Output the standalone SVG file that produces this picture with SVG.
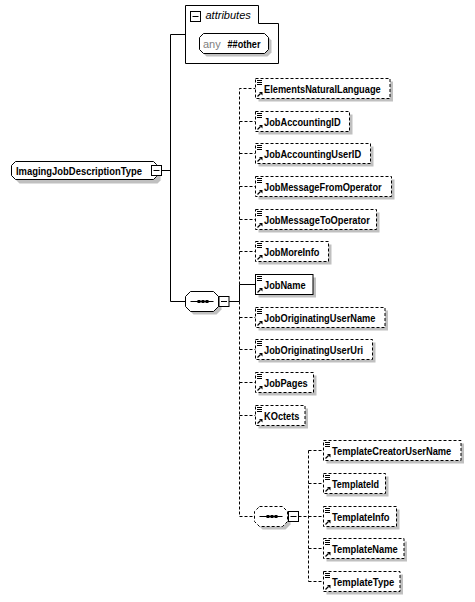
<svg xmlns="http://www.w3.org/2000/svg" width="475" height="602" viewBox="0 0 475 602">
<style>
.bg{fill:#ffffff}
.box{fill:#ffffff;stroke:#000000;stroke-width:1}
.opt{stroke-dasharray:3,2}
.sh{fill:#c0c0c0}
.con{stroke:#000000;stroke-width:1;fill:none}
.dash{stroke-dasharray:3,2}
.lbl{font-family:"Liberation Sans",Arial,sans-serif;font-size:10.5px;font-weight:bold;fill:#000000}
.ital{font-family:"Liberation Sans",Arial,sans-serif;font-size:11px;font-style:italic;fill:#000000}
.any{font-family:"Liberation Sans",Arial,sans-serif;font-size:11px;fill:#808080}
.minus{fill:#ffffff;stroke:#000000;stroke-width:1}
</style>
<defs>
<g id="eicon">
<path d="M1.5,2H6.5M1.5,4H6.5M1.5,6H6.5" stroke="#000000" stroke-width="1" fill="none"/>
<path d="M2,18L5,15" stroke="#000000" stroke-width="1.2" fill="none"/>
<path d="M3.5,13.5H7V17Z" fill="#000000"/>
</g>
<g id="minus">
<rect class="minus" x="0.5" y="0.5" width="10" height="10"/>
<path d="M2.5,5.5H8.5" stroke="#000000" stroke-width="1"/>
</g>
<g id="seqdots">
<path d="M0,0H23" stroke="#000000" stroke-width="1"/>
<rect x="7" y="-1.5" width="3" height="3" fill="#000000"/>
<rect x="11" y="-1.5" width="3" height="3" fill="#000000"/>
<rect x="15" y="-1.5" width="3" height="3" fill="#000000"/>
</g>
</defs>
<rect class="bg" x="0" y="0" width="475" height="602"/>

<g id="connectors">
<path class="con" d="M162,170.5H170.5M170.5,34.5V301.5H185M170.5,34.5H185"/>
<path class="con" d="M229,301.5H239.5V284.5H255.5"/>
<path class="con dash" d="M239.5,284.5V88.5H255.5M239.5,121.5H255.5M239.5,153.5H255.5M239.5,186.5H255.5M239.5,219.5H255.5M239.5,251.5H255.5"/>
<path class="con dash" d="M239.5,301.5V516.5H254M239.5,317.5H255.5M239.5,349.5H255.5M239.5,382.5H255.5M239.5,415.5H255.5"/>
<path class="con dash" d="M298.5,516.5H308.5M308.5,450.5V581.5M308.5,450.5H323.5M308.5,483.5H323.5M308.5,516.5H323.5M308.5,548.5H323.5M308.5,581.5H323.5"/>
</g>

<g id="ImagingJobDescriptionType">
<path class="sh" d="M19.5,165.5H157.5L160.5,168.5V180.5L157.5,183.5H19.5L15.5,179.5V169.5Z"/>
<path class="box" d="M15.5,161.5H153.5L156.5,164.5V176.5L153.5,179.5H15.5L11.5,175.5V165.5Z"/>
<text class="lbl" x="16" y="174.5" textLength="126" lengthAdjust="spacingAndGlyphs">ImagingJobDescriptionType</text>
<use href="#minus" x="151" y="165"/>
</g>

<g id="attributes">
<path class="box" d="M185.5,5.5H258.5V23.5H278.5V63.5H185.5Z"/>
<use href="#minus" x="190" y="11"/>
<text class="ital" x="205.5" y="19">attributes</text>
<g id="any-other">
<path class="sh" d="M206.5,36.5H267.5L271.5,40.5V52.5L267.5,56.5H206.5L202.5,52.5V40.5Z"/>
<path class="box" d="M203.5,33.5H264.5L268.5,37.5V49.5L264.5,53.5H203.5L199.5,49.5V37.5Z"/>
<text class="any" x="203" y="47.5">any</text>
<text class="lbl" x="227.5" y="47.5" textLength="33" lengthAdjust="spacingAndGlyphs">##other</text>
</g>
</g>

<g id="sequence1">
<path class="sh" d="M193.5,294.5H216.5L221.5,299.5V309.5L216.5,314.5H193.5L188.5,309.5V299.5Z"/>
<path class="box" d="M190.5,291.5H213.5L218.5,296.5V306.5L213.5,311.5H190.5L185.5,306.5V296.5Z"/>
<use href="#seqdots" x="190.5" y="301.5"/>
<use href="#minus" x="218.5" y="296"/>
</g>

<g id="sequence2">
<path class="sh" d="M262.5,509.5H285.5L290.5,514.5V524.5L285.5,529.5H262.5L257.5,524.5V514.5Z"/>
<path class="box opt" d="M259.5,506.5H282.5L287.5,511.5V521.5L282.5,526.5H259.5L254.5,521.5V511.5Z"/>
<use href="#seqdots" x="259.5" y="516.5"/>
<use href="#minus" x="288" y="511"/>
</g>

<g id="ElementsNaturalLanguage">
<rect class="sh" x="258.5" y="81.5" width="134.5" height="20"/>
<rect class="box opt" x="255.5" y="78.5" width="134.5" height="20"/>
<use href="#eicon" x="255.5" y="78.5"/>
<text class="lbl" x="264" y="93" textLength="116.7" lengthAdjust="spacingAndGlyphs">ElementsNaturalLanguage</text>
</g>
<g id="JobAccountingID">
<rect class="sh" x="258.5" y="114.5" width="94" height="20"/>
<rect class="box opt" x="255.5" y="111.5" width="94" height="20"/>
<use href="#eicon" x="255.5" y="111.5"/>
<text class="lbl" x="264" y="126" textLength="76.6" lengthAdjust="spacingAndGlyphs">JobAccountingID</text>
</g>
<g id="JobAccountingUserID">
<rect class="sh" x="258.5" y="146.5" width="115" height="20"/>
<rect class="box opt" x="255.5" y="143.5" width="115" height="20"/>
<use href="#eicon" x="255.5" y="143.5"/>
<text class="lbl" x="264" y="158" textLength="97.1" lengthAdjust="spacingAndGlyphs">JobAccountingUserID</text>
</g>
<g id="JobMessageFromOperator">
<rect class="sh" x="258.5" y="179.5" width="136" height="20"/>
<rect class="box opt" x="255.5" y="176.5" width="136" height="20"/>
<use href="#eicon" x="255.5" y="176.5"/>
<text class="lbl" x="264" y="191" textLength="117.7" lengthAdjust="spacingAndGlyphs">JobMessageFromOperator</text>
</g>
<g id="JobMessageToOperator">
<rect class="sh" x="258.5" y="212.5" width="121" height="20"/>
<rect class="box opt" x="255.5" y="209.5" width="121" height="20"/>
<use href="#eicon" x="255.5" y="209.5"/>
<text class="lbl" x="264" y="224" textLength="105.9" lengthAdjust="spacingAndGlyphs">JobMessageToOperator</text>
</g>
<g id="JobMoreInfo">
<rect class="sh" x="258.5" y="244.5" width="73" height="20"/>
<rect class="box opt" x="255.5" y="241.5" width="73" height="20"/>
<use href="#eicon" x="255.5" y="241.5"/>
<text class="lbl" x="264" y="256" textLength="55.5" lengthAdjust="spacingAndGlyphs">JobMoreInfo</text>
</g>
<g id="JobName">
<rect class="sh" x="258.5" y="277.5" width="57.5" height="20"/>
<rect class="box" x="255.5" y="274.5" width="57.5" height="20"/>
<use href="#eicon" x="255.5" y="274.5"/>
<text class="lbl" x="264" y="289" textLength="41.6" lengthAdjust="spacingAndGlyphs">JobName</text>
</g>
<g id="JobOriginatingUserName">
<rect class="sh" x="258.5" y="310.5" width="129.5" height="20"/>
<rect class="box opt" x="255.5" y="307.5" width="129.5" height="20"/>
<use href="#eicon" x="255.5" y="307.5"/>
<text class="lbl" x="264" y="322" textLength="111.5" lengthAdjust="spacingAndGlyphs">JobOriginatingUserName</text>
</g>
<g id="JobOriginatingUserUri">
<rect class="sh" x="258.5" y="342.5" width="117" height="20"/>
<rect class="box opt" x="255.5" y="339.5" width="117" height="20"/>
<use href="#eicon" x="255.5" y="339.5"/>
<text class="lbl" x="264" y="354" textLength="99.2" lengthAdjust="spacingAndGlyphs">JobOriginatingUserUri</text>
</g>
<g id="JobPages">
<rect class="sh" x="258.5" y="375.5" width="58" height="20"/>
<rect class="box opt" x="255.5" y="372.5" width="58" height="20"/>
<use href="#eicon" x="255.5" y="372.5"/>
<text class="lbl" x="264" y="387" textLength="43.7" lengthAdjust="spacingAndGlyphs">JobPages</text>
</g>
<g id="KOctets">
<rect class="sh" x="258.5" y="408.5" width="49.5" height="20"/>
<rect class="box opt" x="255.5" y="405.5" width="49.5" height="20"/>
<use href="#eicon" x="255.5" y="405.5"/>
<text class="lbl" x="264" y="420" textLength="35.5" lengthAdjust="spacingAndGlyphs">KOctets</text>
</g>

<g id="TemplateCreatorUserName">
<rect class="sh" x="326.5" y="443.5" width="137.5" height="20"/>
<rect class="box opt" x="323.5" y="440.5" width="137.5" height="20"/>
<use href="#eicon" x="323.5" y="440.5"/>
<text class="lbl" x="332" y="455" textLength="119.3" lengthAdjust="spacingAndGlyphs">TemplateCreatorUserName</text>
</g>
<g id="TemplateId">
<rect class="sh" x="326.5" y="476.5" width="62" height="20"/>
<rect class="box opt" x="323.5" y="473.5" width="62" height="20"/>
<use href="#eicon" x="323.5" y="473.5"/>
<text class="lbl" x="332" y="488" textLength="47" lengthAdjust="spacingAndGlyphs">TemplateId</text>
</g>
<g id="TemplateInfo">
<rect class="sh" x="326.5" y="509.5" width="73" height="20"/>
<rect class="box opt" x="323.5" y="506.5" width="73" height="20"/>
<use href="#eicon" x="323.5" y="506.5"/>
<text class="lbl" x="332" y="521" textLength="57.6" lengthAdjust="spacingAndGlyphs">TemplateInfo</text>
</g>
<g id="TemplateName">
<rect class="sh" x="326.5" y="541.5" width="80.5" height="20"/>
<rect class="box opt" x="323.5" y="538.5" width="80.5" height="20"/>
<use href="#eicon" x="323.5" y="538.5"/>
<text class="lbl" x="332" y="553" textLength="65.8" lengthAdjust="spacingAndGlyphs">TemplateName</text>
</g>
<g id="TemplateType">
<rect class="sh" x="326.5" y="574.5" width="76.5" height="20"/>
<rect class="box opt" x="323.5" y="571.5" width="76.5" height="20"/>
<use href="#eicon" x="323.5" y="571.5"/>
<text class="lbl" x="332" y="586" textLength="62.2" lengthAdjust="spacingAndGlyphs">TemplateType</text>
</g>
</svg>
